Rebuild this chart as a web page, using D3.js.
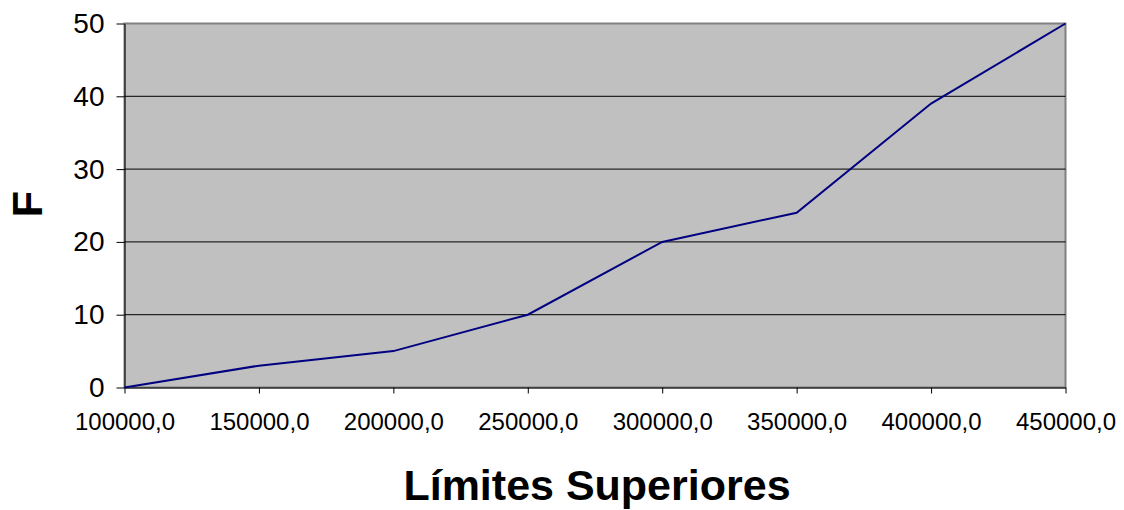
<!DOCTYPE html>
<html><head><meta charset="utf-8">
<script src="https://cdn.jsdelivr.net/npm/d3@7"></script>
<style>body{margin:0;background:#fff;} text{font-family:"Liberation Sans",Arial,sans-serif;}</style>
</head><body>
<svg id="c" width="1124" height="510"></svg>
<script>
const limits = [100000, 150000, 200000, 250000, 300000, 350000, 400000, 450000];
const freq = [0, 3, 5, 10, 20, 24, 39, 50];
const yTicks = [0, 10, 20, 30, 40, 50];
const xTitle = "Límites Superiores";
const yTitle = "F";

const svg = d3.select("#c");
const L = 124.5, R = 1065.5, T = 23.5, B = 387.5;
const x = d3.scaleLinear().domain([100000, 450000]).range([L, R]);
const y = d3.scaleLinear().domain([0, 50]).range([B, T]);

svg.append("rect").attr("x", L).attr("y", T).attr("width", R - L).attr("height", B - T)
  .attr("fill", "#c0c0c0").attr("stroke", "#808080").attr("stroke-width", 2);

// gridlines
svg.append("g").selectAll("line").data(yTicks.filter(d => d > 0 && d < 50)).join("line")
  .attr("x1", L).attr("x2", R).attr("y1", d => y(d)).attr("y2", d => y(d))
  .attr("stroke", "#000").attr("stroke-width", 1);

// y axis
const ya = svg.append("g").attr("transform", `translate(${L},0)`)
  .call(d3.axisLeft(y).tickValues(yTicks).tickSize(8).tickPadding(12).tickSizeOuter(0));
ya.select(".domain").attr("stroke", "#000");
ya.selectAll("text").attr("font-size", 28).attr("fill", "#000")
  .attr("font-family", "Liberation Sans, Arial, sans-serif");

// x axis
const xa = svg.append("g").attr("transform", `translate(0,${B})`)
  .call(d3.axisBottom(x).tickValues(limits).tickSize(6).tickPadding(19).tickSizeOuter(0)
    .tickFormat(d => d3.format(".1f")(d).replace(".", ",")));
xa.select(".domain").attr("stroke", "#000");
xa.selectAll("text").attr("font-size", 24).attr("fill", "#000")
  .attr("font-family", "Liberation Sans, Arial, sans-serif");

// line
svg.append("path").datum(limits.map((d, i) => [d, freq[i]]))
  .attr("d", d3.line().x(d => x(d[0])).y(d => y(d[1])))
  .attr("fill", "none").attr("stroke", "#000080").attr("stroke-width", 2);

// titles
svg.append("text").attr("x", 597).attr("y", 500).attr("text-anchor", "middle")
  .attr("font-size", 43).attr("font-weight", "bold").text(xTitle);
svg.append("text").attr("transform", "translate(42,204) rotate(-90)").attr("text-anchor", "middle")
  .attr("font-size", 43).attr("font-weight", "bold").text(yTitle);
</script>
</body></html>
